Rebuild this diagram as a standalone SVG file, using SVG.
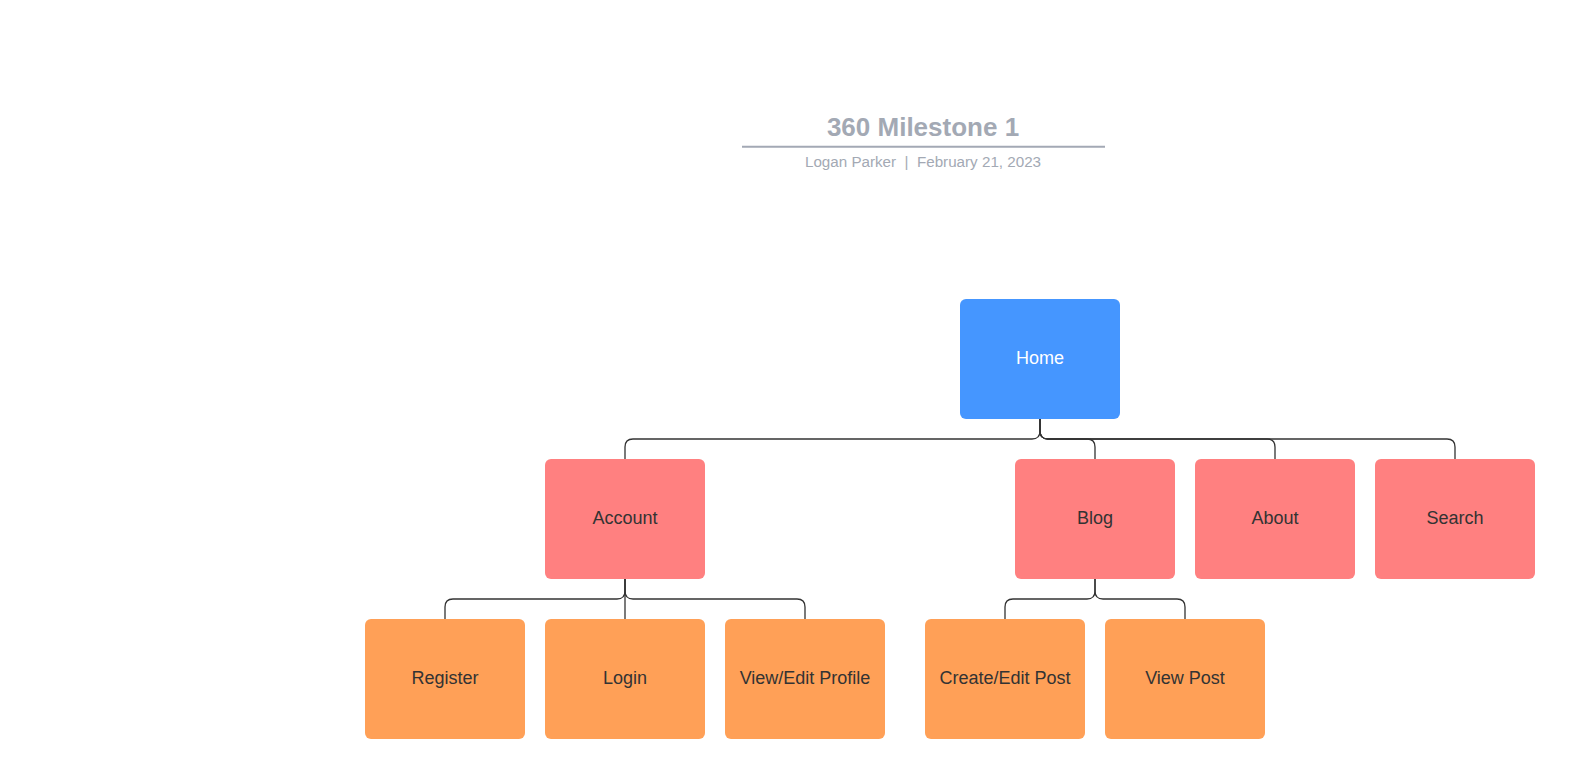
<svg xmlns="http://www.w3.org/2000/svg" width="1575" height="779" viewBox="0 0 1575 779">
<style>
.node rect{rx:6px;ry:6px}
.l1 rect{fill:#4596FF}
.l2 rect{fill:#FF8080}
.l3 rect{fill:#FFA057}
.node text{font-family:"Liberation Sans",Arial,sans-serif;font-size:18px;text-anchor:middle;fill:#333333}
.l1 text{fill:#FFFFFF}
.conn path{fill:none;stroke:#333333;stroke-width:1.3}
.title{font-family:"Liberation Sans",Arial,sans-serif;font-weight:bold;font-size:26px;fill:#A3A9B4;text-anchor:middle}
.sub{font-family:"Liberation Sans",Arial,sans-serif;font-size:15.2px;fill:#A3A9B4;text-anchor:middle}
</style>
<rect width="1575" height="779" fill="#FFFFFF"/>
<g id="title">
<text class="title" x="923" y="136">360 Milestone 1</text>
<line x1="742" y1="146.7" x2="1105" y2="146.7" stroke="#A3A9B5" stroke-width="2"/>
<text class="sub" x="923" y="167" xml:space="preserve">Logan Parker  |  February 21, 2023</text>
</g>
<g id="connectors" class="conn">
<path d="M1040 419 V431 Q1040 439 1032 439 H633 Q625 439 625 447 V459"/>
<path d="M1040 419 V431 Q1040 439 1048 439 H1087 Q1095 439 1095 447 V459"/>
<path d="M1040 419 V431 Q1040 439 1048 439 H1267 Q1275 439 1275 447 V459"/>
<path d="M1040 419 V431 Q1040 439 1048 439 H1447 Q1455 439 1455 447 V459"/>
<path d="M625 579 V591 Q625 599 617 599 H453 Q445 599 445 607 V619"/>
<path d="M625 579 V619"/>
<path d="M625 579 V591 Q625 599 633 599 H797 Q805 599 805 607 V619"/>
<path d="M1095 579 V591 Q1095 599 1087 599 H1013 Q1005 599 1005 607 V619"/>
<path d="M1095 579 V591 Q1095 599 1103 599 H1177 Q1185 599 1185 607 V619"/>
</g>
<g id="home" class="node l1"><rect x="960" y="299" width="160" height="120"/><text x="1040" y="363.5">Home</text></g>
<g id="account" class="node l2"><rect x="545" y="459" width="160" height="120"/><text x="625" y="523.5">Account</text></g>
<g id="blog" class="node l2"><rect x="1015" y="459" width="160" height="120"/><text x="1095" y="523.5">Blog</text></g>
<g id="about" class="node l2"><rect x="1195" y="459" width="160" height="120"/><text x="1275" y="523.5">About</text></g>
<g id="search" class="node l2"><rect x="1375" y="459" width="160" height="120"/><text x="1455" y="523.5">Search</text></g>
<g id="register" class="node l3"><rect x="365" y="619" width="160" height="120"/><text x="445" y="683.5">Register</text></g>
<g id="login" class="node l3"><rect x="545" y="619" width="160" height="120"/><text x="625" y="683.5">Login</text></g>
<g id="viewedit" class="node l3"><rect x="725" y="619" width="160" height="120"/><text x="805" y="683.5">View/Edit Profile</text></g>
<g id="createedit" class="node l3"><rect x="925" y="619" width="160" height="120"/><text x="1005" y="683.5">Create/Edit Post</text></g>
<g id="viewpost" class="node l3"><rect x="1105" y="619" width="160" height="120"/><text x="1185" y="683.5">View Post</text></g>
</svg>
